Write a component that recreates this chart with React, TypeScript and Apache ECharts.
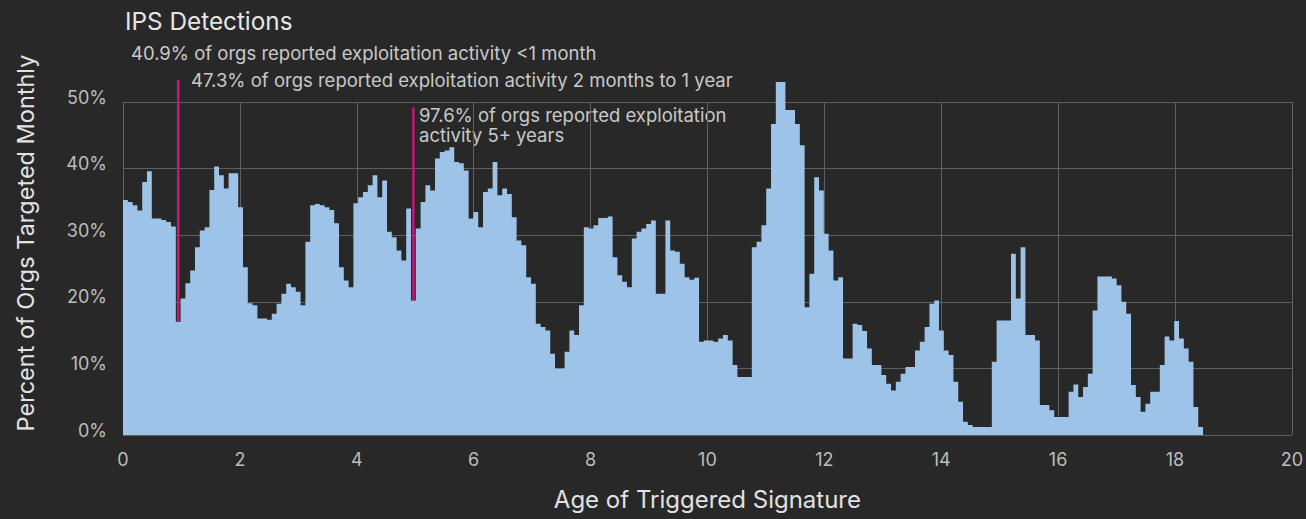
import React, { useEffect, useRef } from "react";
import * as echarts from "echarts";

// ---- data ----
const TITLE = "IPS Detections";
const X_NAME = "Age of Triggered Signature";
const Y_NAME = "Percent of Orgs Targeted Monthly";
const BIN_DAYS = 30;
const DAYS_PER_YEAR = 365.25;
const X_MIN = 0;
const X_MAX = 20;
const X_INTERVAL = 2;
const Y_MIN = 0;
const Y_MAX = 50;
const Y_INTERVAL = 10;

// percent of orgs targeted, one value per 30-day bin of signature age
const pctTargeted: number[] = [
  35.3, 35.0, 34.5, 33.7, 38.0, 39.6, 32.5, 32.5, 32.3, 32.0, 31.3, 17.0,
  20.5, 22.8, 24.7, 28.2, 30.7, 31.2, 36.8, 40.3, 39.0, 37.0, 39.3, 39.3,
  34.2, 25.2, 19.8, 19.5, 17.5, 17.5, 17.3, 18.2, 19.7, 21.2, 22.7, 22.2,
  21.5, 19.5, 29.0, 34.5, 34.7, 34.5, 34.2, 33.8, 31.8, 25.2, 23.2, 22.2,
  34.8, 35.7, 36.5, 37.5, 39.0, 35.7, 38.2, 30.5, 29.7, 27.7, 26.2, 34.0,
  20.2, 31.0, 35.0, 37.5, 36.7, 41.5, 42.5, 42.7, 43.2, 41.0, 40.8, 39.7,
  32.5, 33.5, 31.2, 36.5, 37.0, 41.0, 36.0, 37.0, 36.2, 32.7, 29.2, 28.5,
  23.7, 22.7, 16.7, 16.2, 15.7, 12.2, 10.0, 10.0, 12.5, 15.7, 15.0, 19.5,
  31.2, 31.0, 31.5, 32.6, 32.6, 32.8, 26.7, 24.0, 23.0, 22.2, 29.5, 30.5,
  31.0, 31.7, 32.2, 21.2, 21.2, 32.2, 27.7, 27.5, 25.7, 23.7, 23.3, 23.6,
  14.0, 14.2, 14.2, 14.0, 14.5, 15.0, 14.2, 10.5, 8.7, 8.7, 8.7, 28.2,
  29.0, 31.5, 37.0, 46.7, 53.0, 53.0, 48.8, 48.8, 46.7, 43.5, 19.2, 24.2,
  38.7, 36.7, 30.2, 27.7, 23.2, 23.7, 11.5, 11.5, 16.7, 16.5, 15.6, 13.0,
  10.5, 10.5, 9.0, 7.7, 6.7, 8.0, 9.2, 10.2, 10.2, 12.7, 14.0, 16.2,
  19.7, 20.2, 15.7, 12.7, 12.0, 8.0, 5.0, 2.0, 1.5, 1.2, 1.2, 1.2,
  1.2, 11.0, 17.2, 17.2, 17.2, 27.2, 20.5, 28.2, 15.0, 15.0, 14.2, 4.5,
  4.5, 3.7, 2.7, 2.7, 2.7, 6.5, 7.6, 5.7, 7.2, 9.2, 18.7, 23.8,
  23.8, 23.8, 23.5, 22.5, 20.0, 18.2, 7.5, 5.7, 3.5, 4.7, 6.5, 6.5,
  10.5, 14.8, 14.2, 17.1, 14.5, 13.0, 11.0, 4.2, 1.2,
];

// marker lines: bin index they sit on, and top value (%)
const markerBins = [11, 60];
const markerTops = [53.3, 49.2];

const annotationTexts = [
  "40.9% of orgs reported exploitation activity <1 month",
  "47.3% of orgs reported exploitation activity 2 months to 1 year",
  "97.6% of orgs reported exploitation\nactivity 5+ years",
];

const binToYears = (i: number) => (i * BIN_DAYS) / DAYS_PER_YEAR;

export default function App() {
  const ref = useRef<HTMLDivElement>(null);

  useEffect(() => {
    if (!ref.current) return;
    const chart = echarts.init(ref.current, null, { renderer: "svg" });

    const areaData: [number, number][] = pctTargeted.map((v, i) => [binToYears(i), v]);
    areaData.push([binToYears(pctTargeted.length), pctTargeted[pctTargeted.length - 1]]);

    const markerSeries = markerBins.map((b, k) => ({
      type: "line",
      data: [
        [binToYears(b + 0.5), markerTops[k]],
        [binToYears(b + 0.5), pctTargeted[b]],
      ],
      symbol: "none",
      clip: false,
      silent: true,
      z: 5,
      lineStyle: { color: "#c8177c", width: 2.5 },
    }));

    const font = "Inter, 'Noto Sans', sans-serif";
    const annColor = "#c9c9c9";
    const annFont = `18.5px ${font}`;

    chart.setOption({
      animation: false,
      backgroundColor: "#282828",
      textStyle: { fontFamily: font },
      title: {
        text: TITLE,
        left: 120,
        top: 4,
        textStyle: { color: "#e6e6e6", fontSize: 24.3, fontWeight: "normal", fontFamily: font },
      },
      grid: { left: 123, right: 13, top: 102, bottom: 84, containLabel: false },
      xAxis: {
        type: "value",
        min: X_MIN,
        max: X_MAX,
        interval: X_INTERVAL,
        name: X_NAME,
        nameLocation: "middle",
        nameGap: 52,
        nameTextStyle: { color: "#e2e2e2", fontSize: 24, fontFamily: font },
        axisLine: { show: false },
        axisTick: { show: false },
        axisLabel: { color: "#bdbdbd", fontSize: 18, margin: 15, fontFamily: font },
        splitLine: { show: true, lineStyle: { color: "#606060", width: 1 } },
      },
      yAxis: {
        type: "value",
        min: Y_MIN,
        max: Y_MAX,
        interval: Y_INTERVAL,
        axisLine: { show: false },
        axisTick: { show: false },
        axisLabel: {
          color: "#bdbdbd",
          fontSize: 18,
          margin: 16,
          verticalAlign: "bottom",
          lineHeight: 10,
          fontFamily: font,
          formatter: (v: number) => `${v}%`,
        },
        splitLine: { show: true, lineStyle: { color: "#606060", width: 1 } },
      },
      series: [
        {
          type: "line",
          step: "end",
          data: areaData,
          symbol: "none",
          clip: false,
          silent: true,
          z: 2,
          lineStyle: { width: 0, color: "#9ec3e8" },
          areaStyle: { color: "#9ec3e8", opacity: 1 },
        },
        ...markerSeries,
      ],
      graphic: [
        {
          type: "text",
          x: 25,
          y: 243,
          rotation: Math.PI / 2,
          style: {
            text: Y_NAME,
            fill: "#e2e2e2",
            font: `23.5px ${font}`,
            align: "center",
            verticalAlign: "middle",
          },
        },
        {
          type: "text",
          x: 131,
          y: 53,
          style: { text: annotationTexts[0], fill: annColor, font: annFont, verticalAlign: "middle" },
        },
        {
          type: "text",
          x: 191,
          y: 80,
          style: { text: annotationTexts[1], fill: annColor, font: annFont, verticalAlign: "middle" },
        },
        {
          type: "text",
          x: 419,
          y: 105,
          style: {
            text: annotationTexts[2],
            fill: annColor,
            font: annFont,
            lineHeight: 20,
            verticalAlign: "top",
          },
        },
      ],
    });

    return () => chart.dispose();
  }, []);

  return (
    <div
      ref={ref}
      style={{ position: "fixed", left: 0, top: 0, width: 1306, height: 519 }}
    />
  );
}
